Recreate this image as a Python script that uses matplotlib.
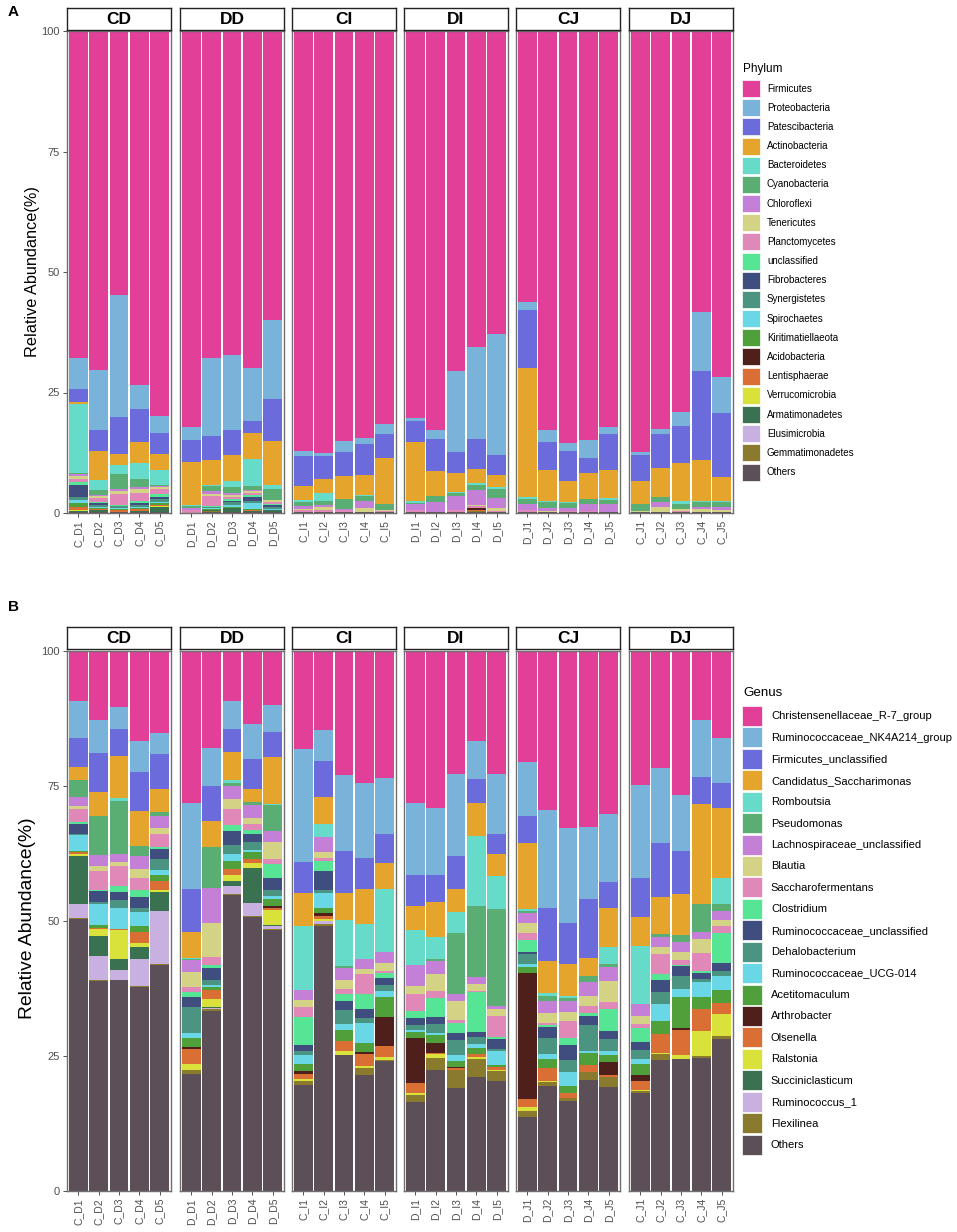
import numpy as np
import matplotlib
matplotlib.use("Agg")
import matplotlib.pyplot as plt
from matplotlib.patches import Patch

plt.rcParams["font.family"] = ["Liberation Sans", "DejaVu Sans"]

facets = ["CD", "DD", "CI", "DI", "CJ", "DJ"]
sample_labels = [
    ["C_D1", "C_D2", "C_D3", "C_D4", "C_D5"],
    ["D_D1", "D_D2", "D_D3", "D_D4", "D_D5"],
    ["C_I1", "C_I2", "C_I3", "C_I4", "C_I5"],
    ["D_I1", "D_I2", "D_I3", "D_I4", "D_I5"],
    ["D_J1", "D_J2", "D_J3", "D_J4", "D_J5"],
    ["C_J1", "C_J2", "C_J3", "C_J4", "C_J5"],
]

# ---------------- Panel A: Phylum (30 samples, facet order CD, DD, CI, DI, CJ, DJ) -------------
phylum_names = ["Firmicutes", "Proteobacteria", "Patescibacteria", "Actinobacteria", "Bacteroidetes",
                "Cyanobacteria", "Chloroflexi", "Tenericutes", "Planctomycetes", "unclassified",
                "Fibrobacteres", "Synergistetes", "Spirochaetes", "Kiritimatiellaeota", "Acidobacteria",
                "Lentisphaerae", "Verrucomicrobia", "Armatimonadetes", "Elusimicrobia", "Gemmatimonadetes",
                "Others"]

firmicutes = [67.8, 70.4, 54.8, 73.4, 79.8, 82.2, 67.8, 67.2, 70.0, 59.9, 87.2, 87.5, 85.1, 84.5, 81.6,
              80.3, 82.7, 70.5, 65.6, 62.9, 56.2, 82.7, 85.5, 84.8, 82.2, 87.4, 82.5, 79.0, 58.4, 71.7]
proteobacteria = [6.5, 12.3, 25.2, 5.1, 3.6, 2.6, 16.2, 15.5, 11.0, 16.4, 0.9, 0.7, 2.3, 1.1, 2.1,
                  0.7, 2.0, 16.8, 19.0, 25.1, 1.6, 2.6, 1.6, 3.8, 1.5, 0.6, 1.2, 3.0, 12.2, 7.6]
patescibacteria = [2.6, 4.4, 7.7, 6.8, 4.4, 4.7, 5.0, 5.2, 2.3, 8.8, 6.2, 4.8, 4.9, 6.5, 4.8,
                   4.3, 6.5, 4.3, 6.3, 4.1, 12.2, 5.8, 6.2, 3.2, 7.4, 5.3, 6.9, 7.6, 18.5, 13.2]
actinobacteria = [0.4, 6.0, 2.3, 4.3, 3.3, 8.9, 5.1, 5.4, 5.6, 9.1, 3.1, 2.9, 4.8, 4.2, 9.6,
                  12.3, 5.3, 4.0, 2.8, 2.6, 26.7, 6.4, 4.5, 5.3, 5.8, 4.8, 6.1, 8.0, 8.5, 5.1]
bacteroidetes = [14.3, 2.2, 2.0, 3.3, 3.0, 0.2, 0.4, 1.4, 5.4, 0.9, 0.4, 1.7, 0.0, 0.2, 0.0,
                 0.3, 0.0, 0.2, 0.5, 0.4, 0.4, 0.2, 0.1, 0.0, 0.3, 0.0, 0.0, 0.5, 0.2, 0.2]
cyanobacteria = [0.4, 0.9, 3.1, 1.8, 0.3, 0.4, 1.0, 1.2, 0.9, 2.1, 0.7, 0.8, 2.1, 1.1, 1.2,
                 0.3, 1.2, 0.7, 1.0, 1.7, 1.1, 1.2, 1.0, 1.1, 1.0, 1.5, 1.1, 1.1, 0.9, 1.0]
chloroflexi = [0.4, 0.2, 0.3, 0.4, 0.3, 0.4, 0.5, 0.3, 0.3, 0.2, 0.6, 0.3, 0.2, 1.3, 0.0,
               1.2, 2.0, 2.9, 3.2, 2.2, 1.2, 0.6, 0.6, 1.3, 1.6, 0.0, 1.0, 0.0, 0.4, 0.6]
tenericutes = [0.6, 0.5, 0.7, 0.8, 0.4, 0.0, 0.4, 0.4, 0.3, 0.4, 0.3, 0.7, 0.0, 0.9, 0.2,
               0.0, 0.0, 0.0, 0.2, 0.5, 0.0, 0.2, 0.0, 0.0, 0.0, 0.2, 1.0, 0.3, 0.7, 0.4]
planctomycetes = [0.6, 0.9, 2.2, 1.6, 1.0, 0.5, 2.2, 0.5, 0.4, 0.4, 0.4, 0.3, 0.3, 0.0, 0.2,
                  0.3, 0.0, 0.3, 0.4, 0.2, 0.3, 0.0, 0.2, 0.3, 0.0, 0.0, 0.0, 0.3, 0.0, 0.0]
unclassified_p = [0.5, 0.2, 0.3, 0.4, 0.6, 0.0, 0.2, 0.5, 0.4, 0.2, 0.0, 0.0, 0.0, 0.0, 0.0,
                  0.0, 0.0, 0.0, 0.0, 0.0, 0.0, 0.0, 0.0, 0.0, 0.0, 0.0, 0.0, 0.0, 0.0, 0.0]
fibrobacteres = [2.5, 0.4, 0.0, 0.4, 0.4, 0.0, 0.0, 0.2, 1.0, 0.3, 0.0, 0.0, 0.0, 0.0, 0.0,
                 0.0, 0.0, 0.0, 0.0, 0.0, 0.0, 0.0, 0.0, 0.0, 0.0, 0.0, 0.0, 0.0, 0.0, 0.0]
synergistetes = [0.8, 0.3, 0.3, 0.4, 0.6, 0.0, 0.2, 0.6, 0.4, 0.4, 0.0, 0.0, 0.0, 0.0, 0.0,
                 0.0, 0.0, 0.0, 0.0, 0.0, 0.0, 0.0, 0.0, 0.0, 0.0, 0.0, 0.0, 0.0, 0.0, 0.0]
spirochaetes = [0.5, 0.3, 0.2, 0.3, 0.3, 0.0, 0.1, 0.3, 1.2, 0.3, 0.0, 0.0, 0.0, 0.0, 0.0,
                0.0, 0.0, 0.0, 0.0, 0.0, 0.0, 0.0, 0.0, 0.0, 0.0, 0.0, 0.0, 0.0, 0.0, 0.0]
kiritimatiellaeota = [0.8, 0.2, 0.3, 0.2, 0.4, 0.0, 0.2, 0.2, 0.2, 0.0, 0.0, 0.0, 0.0, 0.0, 0.0,
                      0.0, 0.0, 0.0, 0.0, 0.0, 0.0, 0.0, 0.0, 0.0, 0.0, 0.0, 0.0, 0.0, 0.0, 0.0]
acidobacteria = [0.1, 0.0, 0.0, 0.0, 0.0, 0.0, 0.0, 0.0, 0.0, 0.0, 0.0, 0.0, 0.0, 0.0, 0.0,
                 0.0, 0.0, 0.0, 0.3, 0.0, 0.0, 0.0, 0.0, 0.0, 0.0, 0.0, 0.0, 0.0, 0.0, 0.0]
lentisphaerae = [0.5, 0.1, 0.3, 0.3, 0.2, 0.0, 0.0, 0.0, 0.2, 0.0, 0.0, 0.0, 0.0, 0.0, 0.0,
                 0.0, 0.0, 0.0, 0.2, 0.0, 0.0, 0.0, 0.0, 0.0, 0.0, 0.0, 0.0, 0.0, 0.0, 0.0]
verrucomicrobia = [0.2, 0.1, 0.0, 0.1, 0.1, 0.0, 0.0, 0.0, 0.0, 0.0, 0.0, 0.0, 0.0, 0.0, 0.0,
                   0.0, 0.0, 0.0, 0.0, 0.0, 0.0, 0.0, 0.0, 0.0, 0.0, 0.0, 0.0, 0.0, 0.0, 0.0]
armatimonadetes = [0.2, 0.3, 0.1, 0.2, 1.0, 0.0, 0.2, 0.8, 0.2, 0.3, 0.0, 0.0, 0.0, 0.0, 0.0,
                   0.0, 0.0, 0.0, 0.0, 0.0, 0.0, 0.0, 0.0, 0.0, 0.0, 0.0, 0.0, 0.0, 0.0, 0.0]
elusimicrobia = [0.0, 0.0, 0.0, 0.0, 0.0, 0.0, 0.0, 0.0, 0.0, 0.0, 0.0, 0.0, 0.0, 0.0, 0.0,
                 0.0, 0.0, 0.0, 0.0, 0.0, 0.0, 0.0, 0.0, 0.0, 0.0, 0.0, 0.0, 0.0, 0.0, 0.0]
gemmatimonadetes = [0.0, 0.1, 0.0, 0.0, 0.0, 0.0, 0.3, 0.0, 0.0, 0.0, 0.0, 0.0, 0.0, 0.0, 0.0,
                    0.0, 0.0, 0.0, 0.2, 0.0, 0.0, 0.0, 0.0, 0.0, 0.0, 0.0, 0.0, 0.0, 0.0, 0.0]
others_p = [0.3, 0.2, 0.2, 0.2, 0.3, 0.1, 0.2, 0.3, 0.2, 0.3, 0.2, 0.3, 0.3, 0.2, 0.3,
            0.3, 0.3, 0.3, 0.3, 0.3, 0.3, 0.3, 0.3, 0.2, 0.2, 0.2, 0.2, 0.2, 0.2, 0.2]

phylum_values = [firmicutes, proteobacteria, patescibacteria, actinobacteria, bacteroidetes,
                 cyanobacteria, chloroflexi, tenericutes, planctomycetes, unclassified_p,
                 fibrobacteres, synergistetes, spirochaetes, kiritimatiellaeota, acidobacteria,
                 lentisphaerae, verrucomicrobia, armatimonadetes, elusimicrobia, gemmatimonadetes,
                 others_p]

# ---------------- Panel B: Genus -------------
genus_names = ["Christensenellaceae_R-7_group", "Ruminococcaceae_NK4A214_group", "Firmicutes_unclassified",
               "Candidatus_Saccharimonas", "Romboutsia", "Pseudomonas", "Lachnospiraceae_unclassified",
               "Blautia", "Saccharofermentans", "Clostridium", "Ruminococcaceae_unclassified",
               "Dehalobacterium", "Ruminococcaceae_UCG-014", "Acetitomaculum", "Arthrobacter",
               "Olsenella", "Ralstonia", "Succiniclasticum", "Ruminococcus_1", "Flexilinea", "Others"]

christensenellaceae = [9.3, 12.8, 10.3, 16.6, 15.2, 28.1, 18.0, 9.3, 13.5, 10.0, 18.1, 14.7, 23.0, 24.5, 23.6,
                       28.1, 29.1, 22.7, 16.6, 22.7, 20.5, 29.5, 32.7, 32.5, 30.1, 24.9, 21.6, 26.7, 12.8, 16.2]
nk4a214 = [6.8, 6.1, 4.2, 5.8, 3.8, 15.9, 7.0, 5.1, 6.5, 5.0, 20.9, 5.7, 14.0, 13.9, 10.3,
           13.4, 12.3, 15.2, 7.1, 11.1, 10.1, 18.1, 17.7, 13.5, 12.7, 17.1, 14.0, 10.4, 10.6, 8.3]
firmicutes_uncl = [5.4, 7.3, 5.0, 7.2, 6.5, 8.1, 6.4, 4.3, 5.6, 4.7, 5.8, 6.7, 7.9, 5.7, 5.4,
                   5.8, 5.1, 6.2, 4.5, 3.7, 4.9, 9.8, 7.5, 10.9, 4.8, 7.3, 10.0, 7.9, 4.9, 4.5]
candidatus = [2.3, 4.4, 7.8, 6.6, 4.4, 4.8, 4.9, 5.2, 2.4, 8.6, 6.1, 5.0, 4.9, 6.5, 4.8,
              4.3, 6.4, 4.2, 6.1, 4.1, 12.3, 5.9, 5.9, 3.3, 7.2, 5.3, 6.8, 7.6, 18.5, 13.1]
romboutsia = [0.0, 0.0, 0.4, 0.0, 0.0, 0.2, 0.0, 0.6, 0.0, 0.2, 11.9, 2.3, 8.5, 6.5, 11.7,
              6.5, 4.2, 4.0, 13.0, 6.1, 0.4, 0.6, 0.4, 0.0, 3.2, 10.8, 0.0, 0.0, 0.0, 4.8]
pseudomonas = [3.3, 7.2, 9.8, 1.7, 0.6, 0.2, 7.5, 0.5, 0.5, 4.8, 0.0, 0.0, 0.4, 0.0, 0.0,
               0.0, 0.3, 11.3, 13.1, 18.1, 0.3, 0.9, 0.7, 1.1, 0.5, 0.0, 0.5, 1.3, 5.2, 1.2]
lachnospiraceae_uncl = [1.6, 2.0, 1.5, 2.5, 2.2, 2.2, 6.5, 2.4, 2.5, 2.1, 1.8, 2.8, 2.3, 1.7, 2.0,
                        4.0, 2.4, 1.2, 1.3, 0.5, 1.8, 2.3, 1.9, 2.5, 2.6, 2.2, 1.9, 1.8, 1.4, 1.8]
blautia = [0.5, 1.0, 0.9, 1.7, 1.1, 2.8, 6.3, 1.8, 1.1, 3.2, 1.4, 1.1, 1.6, 1.0, 1.5,
           1.4, 3.1, 3.5, 1.2, 1.3, 1.9, 1.7, 1.8, 2.0, 3.9, 1.4, 1.4, 1.6, 2.6, 1.1]
saccharofermentans = [2.4, 3.4, 3.6, 2.2, 2.5, 0.8, 1.6, 3.0, 1.1, 0.9, 1.7, 0.5, 0.9, 3.8, 0.4,
                      3.2, 1.4, 0.6, 0.2, 3.8, 1.4, 0.5, 3.1, 1.3, 1.3, 0.9, 3.6, 0.9, 3.3, 1.3]
clostridium = [0.4, 0.3, 1.2, 1.3, 0.4, 1.0, 0.5, 1.1, 0.7, 2.6, 5.2, 1.9, 1.3, 2.7, 0.9,
               1.3, 3.4, 1.9, 7.4, 0.5, 2.1, 0.4, 1.3, 0.5, 4.1, 2.5, 1.1, 0.2, 0.4, 5.5]
ruminococcaceae_uncl = [1.8, 2.0, 1.5, 2.0, 1.8, 1.9, 2.2, 2.7, 1.5, 2.1, 1.2, 3.6, 1.6, 1.6, 1.2,
                        1.2, 1.4, 1.3, 0.9, 1.8, 0.5, 2.0, 2.7, 1.7, 1.5, 1.4, 2.3, 1.8, 1.0, 1.5]
dehalobacterium = [0.2, 0.3, 1.4, 0.7, 2.1, 4.8, 0.9, 1.6, 1.5, 1.1, 0.8, 0.6, 2.7, 1.0, 1.1,
                   0.9, 1.7, 2.7, 1.4, 0.4, 1.8, 2.9, 2.2, 4.8, 2.1, 1.8, 2.2, 2.3, 0.6, 0.8]
ucg014 = [3.0, 3.9, 3.8, 2.7, 0.9, 0.8, 0.4, 1.3, 0.4, 0.7, 1.6, 2.7, 1.1, 3.6, 1.2,
          0.5, 0.4, 1.1, 0.7, 2.5, 0.5, 0.9, 2.6, 0.4, 0.8, 0.8, 3.1, 1.6, 2.8, 2.6]
acetitomaculum = [0.3, 0.6, 0.0, 1.1, 1.1, 1.8, 0.5, 1.4, 1.2, 1.3, 1.2, 0.9, 2.0, 1.7, 3.7,
                  1.1, 1.4, 1.2, 1.1, 0.5, 1.1, 1.8, 1.3, 2.2, 1.3, 2.1, 2.5, 5.8, 2.2, 2.5]
arthrobacter = [0.0, 0.0, 0.0, 0.0, 0.0, 0.3, 0.0, 0.0, 0.0, 0.3, 0.7, 0.5, 0.0, 0.4, 5.4,
                8.3, 1.9, 0.2, 0.0, 0.0, 23.3, 0.0, 0.0, 0.0, 2.4, 1.1, 0.0, 0.2, 0.0, 0.0]
olsenella = [0.2, 0.1, 0.3, 2.0, 1.6, 2.7, 1.8, 1.1, 0.7, 0.4, 0.9, 0.6, 1.9, 2.2, 1.9,
             1.8, 0.2, 0.3, 0.6, 0.4, 1.6, 2.3, 1.0, 1.3, 0.4, 1.7, 3.4, 4.8, 4.0, 2.1]
ralstonia = [0.5, 1.4, 5.4, 0.8, 0.4, 1.2, 1.5, 1.1, 1.0, 2.7, 0.4, 0.4, 0.7, 0.4, 0.7,
             0.4, 0.6, 0.0, 0.3, 0.2, 0.6, 0.2, 0.0, 0.0, 0.0, 0.2, 0.3, 0.6, 4.7, 4.0]
succiniclasticum = [8.8, 3.6, 2.0, 2.2, 3.6, 0.0, 0.2, 1.0, 6.4, 0.3, 0.0, 0.0, 0.0, 0.0, 0.0,
                    0.0, 0.0, 0.0, 0.0, 0.0, 0.0, 0.0, 0.0, 0.0, 0.0, 0.0, 0.0, 0.0, 0.0, 0.0]
ruminococcus_1 = [2.6, 4.5, 1.8, 5.0, 9.7, 0.0, 0.1, 1.5, 2.4, 0.5, 0.0, 0.5, 0.0, 0.0, 0.0,
                  0.0, 0.0, 0.0, 0.0, 0.0, 0.0, 0.0, 0.0, 0.0, 0.0, 0.0, 0.0, 0.0, 0.0, 0.0]
flexilinea = [0.3, 0.2, 0.1, 0.2, 0.3, 0.8, 0.4, 0.1, 0.2, 0.1, 0.7, 0.5, 0.1, 1.3, 0.2,
              1.4, 2.2, 3.4, 3.4, 2.0, 1.2, 0.7, 0.6, 1.5, 1.8, 0.3, 1.1, 0.1, 0.3, 0.6]
others_g = [50.3, 38.9, 39.0, 37.7, 41.8, 21.6, 33.3, 54.9, 50.8, 48.4, 19.6, 49.0, 25.1, 21.5, 24.0,
            16.4, 22.5, 19.0, 21.1, 20.3, 13.7, 19.5, 16.6, 20.5, 19.3, 18.2, 24.2, 24.4, 24.7, 28.1]

genus_values = [christensenellaceae, nk4a214, firmicutes_uncl, candidatus, romboutsia, pseudomonas,
                lachnospiraceae_uncl, blautia, saccharofermentans, clostridium, ruminococcaceae_uncl,
                dehalobacterium, ucg014, acetitomaculum, arthrobacter, olsenella, ralstonia,
                succiniclasticum, ruminococcus_1, flexilinea, others_g]

palette = ["#E13F98", "#79B3DA", "#6C6BDC", "#E5A42B", "#66DBCA", "#5AAE73", "#C480D7", "#D4D385",
           "#E088B8", "#56E594", "#3F4E7F", "#4B9481", "#6AD7E7", "#4FA03B", "#4F1F1B", "#D96F34",
           "#D8E23A", "#3A7251", "#C8B1E0", "#8A7A2E", "#5D4F58"]

W, H = 957, 1232
fig = plt.figure(figsize=(W / 100, H / 100), dpi=100)


def px_axes(x0, y0, x1, y1):
    return fig.add_axes([x0 / W, 1 - y1 / H, (x1 - x0) / W, (y1 - y0) / H])


facet_x0 = [67, 180, 292, 404, 516, 629]
facet_w = 104
border_col = "#6f6f6f"
tick_col = "#4d4d4d"


def draw_panel(values, names, top, bottom, strip_top, legend_title, title_y, leg_top,
               fs, tfs, hl, hh, ls, pad):
    data = np.array(values, dtype=float)  # (categories, 30)
    for fi, facet in enumerate(facets):
        x0 = facet_x0[fi]
        ax = px_axes(x0, top, x0 + facet_w, bottom)
        sub = data[:, fi * 5:(fi + 1) * 5]
        sub = sub / sub.sum(axis=0) * 100.0
        xs = np.arange(1, 6)
        acc = np.zeros(5)
        for k in reversed(range(len(names))):
            ax.bar(xs, sub[k], width=0.93, bottom=acc, color=palette[k], linewidth=0)
            acc += sub[k]
        ax.set_xlim(0.45, 5.55)
        ax.set_ylim(0, 100)
        ax.set_xticks(xs)
        ax.set_xticklabels(sample_labels[fi], rotation=90, fontsize=7.5, color=tick_col)
        ax.tick_params(axis="x", length=3, color="#333333", width=0.6, pad=2)
        if fi == 0:
            ax.set_yticks([0, 25, 50, 75, 100])
            ax.set_yticklabels(["0", "25", "50", "75", "100"], fontsize=8, color=tick_col)
            ax.tick_params(axis="y", length=3, color="#333333", width=0.6, pad=2)
        else:
            ax.set_yticks([])
        for s in ax.spines.values():
            s.set_color(border_col)
            s.set_linewidth(1.0)
        # strip
        sax = px_axes(x0, strip_top, x0 + facet_w, strip_top + 22)
        sax.set_xticks([])
        sax.set_yticks([])
        sax.set_facecolor("white")
        for s in sax.spines.values():
            s.set_color("#222222")
            s.set_linewidth(1.0)
        sax.text(0.5, 0.47, facet, ha="center", va="center", fontsize=12.5, fontweight="bold",
                 transform=sax.transAxes)

    handles = [Patch(facecolor=palette[k], edgecolor="white", linewidth=0.5) for k in range(len(names))]
    leg = fig.legend(handles, names, loc="upper left", bbox_to_anchor=(742 / W, 1 - leg_top / H),
                     frameon=False, fontsize=fs,
                     handlelength=hl, handleheight=hh, labelspacing=ls, handletextpad=pad,
                     borderpad=0, borderaxespad=0)
    fig.text(743 / W, 1 - title_y / H, legend_title, fontsize=tfs, ha="left", va="center")
    return leg


draw_panel(phylum_values, phylum_names, 31, 513, 8, "Phylum", 69, 80, 7, 8.5, 1.85, 2.31, 0.226, 0.72)
draw_panel(genus_values, genus_names, 651, 1191, 627, "Genus", 693, 706, 8, 9.6, 1.8, 2.39, 0.13, 0.8)

fig.text(33 / W, 1 - 272 / H, "Relative Abundance(%)", rotation=90, ha="center", va="center", fontsize=11.7)
fig.text(28 / W, 1 - 918 / H, "Relative Abundance(%)", rotation=90, ha="center", va="center", fontsize=13.9)
fig.text(8 / W, 1 - 12 / H, "A", fontsize=11, fontweight="bold", ha="left", va="center")
fig.text(8 / W, 1 - 607 / H, "B", fontsize=11, fontweight="bold", ha="left", va="center")

fig.savefig("out.png", dpi=100, facecolor="white")
